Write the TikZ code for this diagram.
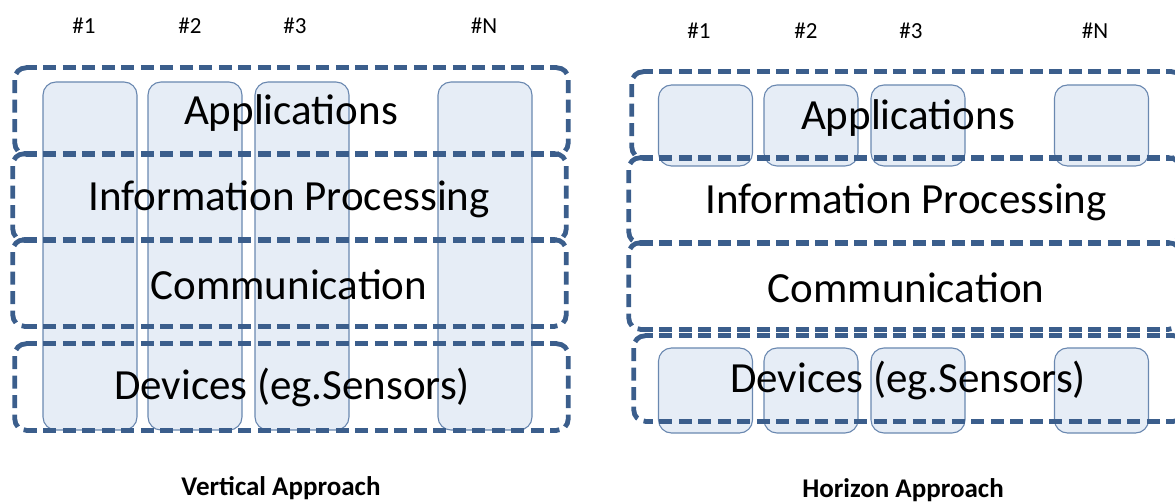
\documentclass[tikz,border=0pt]{standalone}
\usepackage{fontspec}
\setmainfont{Carlito}
\definecolor{layerblue}{HTML}{3B5E8C}
\definecolor{boxline}{HTML}{6A88B0}
\definecolor{boxfill}{HTML}{E6EDF6}
\begin{document}
\begin{tikzpicture}[x=1pt,y=-1pt,
  layer/.style={inner sep=0pt, minimum width=553pt, minimum height=86pt},
  dashline/.style={draw=layerblue, line width=4.8pt, dash pattern=on 13pt off 6.5pt},
  side/.style={dashline, rounded corners=11pt},
  layertext/.style={font=\fontsize{43}{50}\selectfont, inner sep=0pt, anchor=center},
  colbox/.style={draw=boxline, line width=1.1pt, fill=boxfill, rounded corners=13pt,
     inner sep=0pt, minimum width=94pt},
  numlabel/.style={font=\fontsize{23}{27}\selectfont, inner sep=0pt},
  title/.style={font=\bfseries\fontsize{27}{31}\selectfont, inner sep=0pt}]
\useasboundingbox (0,0) rectangle (1175,502);
\clip (0,0) rectangle (1175,502);
% border of a layer node: #1 name, #2 dash phase of its horizontal edges
\newcommand{\layerborder}[2]{%
  \draw[side] ([xshift=12pt]#1.north west) -- (#1.north west) -- (#1.south west) -- ([xshift=12pt]#1.south west);
  \draw[side] ([xshift=-12pt]#1.north east) -- (#1.north east) -- (#1.south east) -- ([xshift=-12pt]#1.south east);
  \draw[dashline, dash phase=#2] ([xshift=11pt]#1.north west) -- ([xshift=-11pt]#1.north east);
  \draw[dashline, dash phase=#2] ([xshift=11pt]#1.south west) -- ([xshift=-11pt]#1.south east);}
% ---------- Vertical approach ----------
\node[numlabel] (vl1) at (84,26) {\#1};
\node[numlabel] (vl2) at (190,26) {\#2};
\node[numlabel] (vl3) at (295,26) {\#3};
\node[numlabel] (vlN) at (484,26) {\#N};
\node[colbox, minimum height=348pt] (vc1) at (90,256) {};
\node[colbox, minimum height=348pt] (vc2) at (195,256) {};
\node[colbox, minimum height=348pt] (vc3) at (302,256) {};
\node[colbox, minimum height=348pt] (vcN) at (485,256) {};
\node[layer] (vapp) at (291.5,111) {};
\node[layer] (vinf) at (289.5,197) {};
\node[layer] (vcom) at (289.5,283) {};
\node[layer] (vdev) at (291.5,387) {};
\layerborder{vapp}{2pt}
\layerborder{vinf}{0pt}
\layerborder{vcom}{0pt}
\layerborder{vdev}{2pt}
\node[layertext] (vappt) at (291,113) {Applications};
\node[layertext] (vinft) at (289,199) {Information Processing};
\node[layertext] (vcomt) at (289,285) {Communication};
\node[layertext] (vdevt) at (292,387) {Devices (eg.Sensors)};
\node[title] (vtitle) at (281,488) {Vertical Approach};
% ---------- Horizon approach ----------
\node[numlabel] (hl1) at (699,31) {\#1};
\node[numlabel] (hl2) at (806,31) {\#2};
\node[numlabel] (hl3) at (911,31) {\#3};
\node[numlabel] (hlN) at (1095,31) {\#N};
\node[colbox, minimum height=81pt] (ht1) at (705.5,125.5) {};
\node[colbox, minimum height=81pt] (ht2) at (811,125.5) {};
\node[colbox, minimum height=81pt] (ht3) at (918,125.5) {};
\node[colbox, minimum height=81pt] (htN) at (1101.5,125.5) {};
\node[colbox, minimum height=85pt] (hb1) at (705.5,390.5) {};
\node[colbox, minimum height=85pt] (hb2) at (811,390.5) {};
\node[colbox, minimum height=85pt] (hb3) at (918,390.5) {};
\node[colbox, minimum height=85pt] (hbN) at (1101.5,390.5) {};
\node[layer, minimum width=551pt] (happ) at (907.5,115) {};
\node[layer, minimum width=551pt, minimum height=85pt] (hinf) at (904.5,200.5) {};
\node[layer, minimum width=551pt] (hcom) at (904.5,286) {};
\node[layer, minimum width=551pt, minimum height=85pt] (hdev) at (909.5,378.5) {};
\layerborder{happ}{3pt}
\layerborder{hinf}{0pt}
\layerborder{hcom}{0pt}
\layerborder{hdev}{5pt}
\node[layertext] (happt) at (908,118) {Applications};
\node[layertext] (hinft) at (906,202) {Information Processing};
\node[layertext] (hcomt) at (906,288) {Communication};
\node[layertext] (hdevt) at (908,380) {Devices (eg.Sensors)};
\node[title] (htitle) at (903,490) {Horizon Approach};
\end{tikzpicture}
\end{document}
